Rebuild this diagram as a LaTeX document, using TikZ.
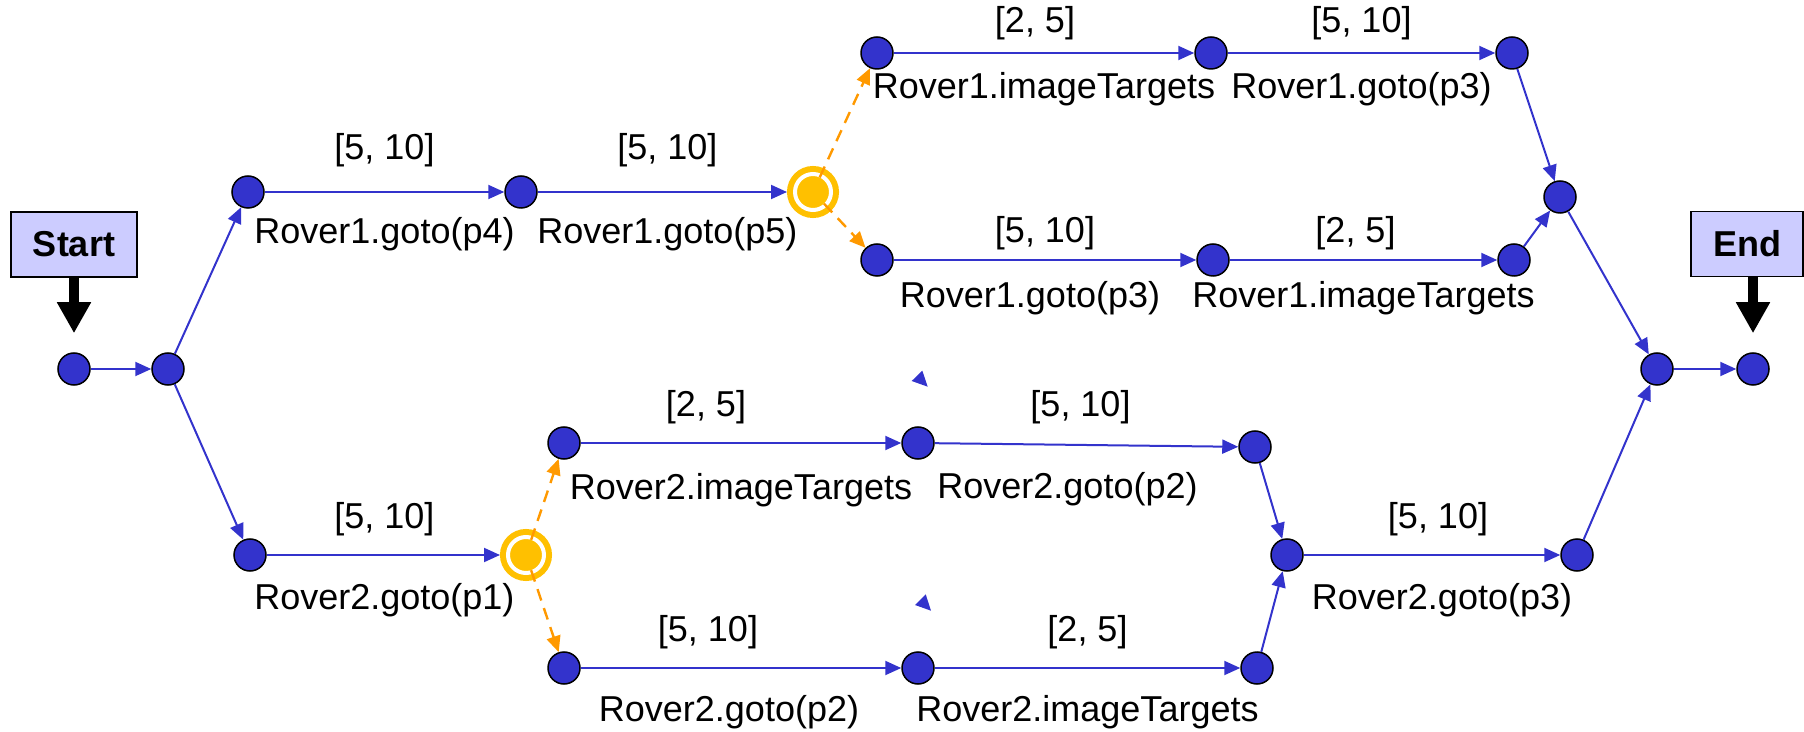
\documentclass[tikz,border=0pt]{standalone}
\usepackage{fontspec}
\setmainfont{Liberation Sans}
\usetikzlibrary{arrows.meta}

\definecolor{nodeblue}{RGB}{51,51,204}
\definecolor{boxfill}{RGB}{204,204,255}
\definecolor{choicefill}{RGB}{255,192,0}
\definecolor{altorange}{RGB}{255,153,0}

\tikzset{
  dot/.style={circle, draw=black, line width=0.75pt, fill=nodeblue,
    minimum size=16pt, inner sep=0pt},
  choice/.style={circle, draw=choicefill, fill=choicefill, line width=3pt,
    double=white, double distance=2pt, minimum size=18pt, inner sep=0pt,
    outer sep=-1pt},
  flag/.style={rectangle, draw=black, line width=0.75pt, fill=boxfill,
    minimum width=63pt, minimum height=32.5pt,
    font=\fontsize{18}{20}\selectfont\bfseries},
  lab/.style={font=\fontsize{18}{20}\selectfont, inner sep=0pt},
  flow/.style={draw=nodeblue, line width=1pt,
    -{Triangle[length=8pt,width=7pt]}},
  alt/.style={draw=altorange, line width=1.2pt, dash pattern=on 6pt off 4pt,
    -{Triangle[length=8pt,width=7pt]}},
  marker/.style={draw=black, line width=5pt,
    -{Triangle[length=15.5pt,width=16pt]}, shorten >=9.5pt},
}

\begin{document}
\begin{tikzpicture}[x=0.5pt, y=-0.5pt]
  \useasboundingbox (0,0) rectangle (1804,732);

  \begin{scope}[every node/.style={dot}]
    \node (s0) at (74,369)   {};
    \node (s1) at (168,369)  {};
    \node (a1) at (248,192)  {};
    \node (a2) at (521,192)  {};
    \node (b1) at (877,53)   {};
    \node (b2) at (1211,53)  {};
    \node (b3) at (1512,53)  {};
    \node (c1) at (877,260)  {};
    \node (c2) at (1213,260) {};
    \node (c3) at (1514,260) {};
    \node (j1) at (1560,197) {};
    \node (e0) at (1657,369) {};
    \node (e1) at (1753,369) {};
    \node (d1) at (250,555)  {};
    \node (f1) at (564,443)  {};
    \node (f2) at (918,443)  {};
    \node (f3) at (1255,447) {};
    \node (g1) at (564,668)  {};
    \node (g2) at (918,668)  {};
    \node (g3) at (1257,668) {};
    \node (j2) at (1287,555) {};
    \node (h1) at (1577,555) {};
  \end{scope}

  \node[choice] (o1) at (813,192) {};
  \node[choice] (o2) at (526,555) {};

  \node[flag] (start) at (74,244.5) {Start};
  \node[flag, minimum width=56pt] (end) at (1747,244) {End};

  \draw[marker] (start) -- (s0);
  \draw[marker] (end.south -| e1) -- (e1);

  \begin{scope}[every edge/.style={flow}]
    \path (s0) edge (s1);
    \path (s1) edge (a1);
    \path (s1) edge (d1);
    \path (a1) edge node[lab, yshift=21pt] {[5, 10]}
                    node[lab, yshift=-21pt] {Rover1.goto(p4)} (a2);
    \path (a2) edge[shorten >=5pt] node[lab, yshift=21pt] {[5, 10]}
                    node[lab, yshift=-21pt] {Rover1.goto(p5)} (o1);
    \path (o1) edge[alt] (b1);
    \path (o1) edge[alt] (c1);
    \path (b1) edge node[lab, yshift=15pt, xshift=-4.5pt] {[2, 5]}
                    node[lab, yshift=-18pt] {Rover1.imageTargets} (b2);
    \path (b2) edge node[lab, yshift=15pt] {[5, 10]}
                    node[lab, yshift=-18pt] {Rover1.goto(p3)} (b3);
    \path (c1) edge node[lab, yshift=13.5pt] {[5, 10]}
                    node[lab, yshift=-19pt, xshift=-7.5pt] {Rover1.goto(p3)} (c2);
    \path (c2) edge node[lab, yshift=13.5pt, xshift=-4pt] {[2, 5]}
                    node[lab, yshift=-19pt] {Rover1.imageTargets} (c3);
    \path (b3) edge (j1);
    \path (c3) edge (j1);
    \path (j1) edge (e0);
    \path (e0) edge (e1);

    \path (d1) edge[shorten >=5pt] node[lab, yshift=18pt, xshift=-2pt] {[5, 10]}
                    node[lab, yshift=-22.5pt, xshift=-2pt] {Rover2.goto(p1)} (o2);
    \path (o2) edge[alt] (f1);
    \path (o2) edge[alt] (g1);
    \path (f1) edge node[lab, yshift=18pt, xshift=-17.5pt] {[2, 5]}
                    node[lab, yshift=-23.5pt] {Rover2.imageTargets} (f2);
    \path (f2) edge node[lab, yshift=19pt, xshift=-3pt] {[5, 10]}
                    node[lab, yshift=-22pt, xshift=-9.5pt] {Rover2.goto(p2)} (f3);
    \path (g1) edge node[lab, yshift=18pt, xshift=-16.5pt] {[5, 10]}
                    node[lab, yshift=-22pt, xshift=-6pt] {Rover2.goto(p2)} (g2);
    \path (g2) edge node[lab, yshift=18pt] {[2, 5]}
                    node[lab, yshift=-22pt] {Rover2.imageTargets} (g3);
    \path (f3) edge (j2);
    \path (g3) edge (j2);
    \path (j2) edge node[lab, yshift=18pt, xshift=3pt] {[5, 10]}
                    node[lab, yshift=-22.5pt, xshift=5pt] {Rover2.goto(p3)} (h1);
    \path (h1) edge (e0);
  \end{scope}

  % loose arrow heads
  \fill[nodeblue] (911.7,381) -- (922.3,370.7) -- (927.7,386.7) -- cycle;
  \fill[nodeblue] (915,605) -- (925.7,594.3) -- (931,610.7) -- cycle;

\end{tikzpicture}
\end{document}
